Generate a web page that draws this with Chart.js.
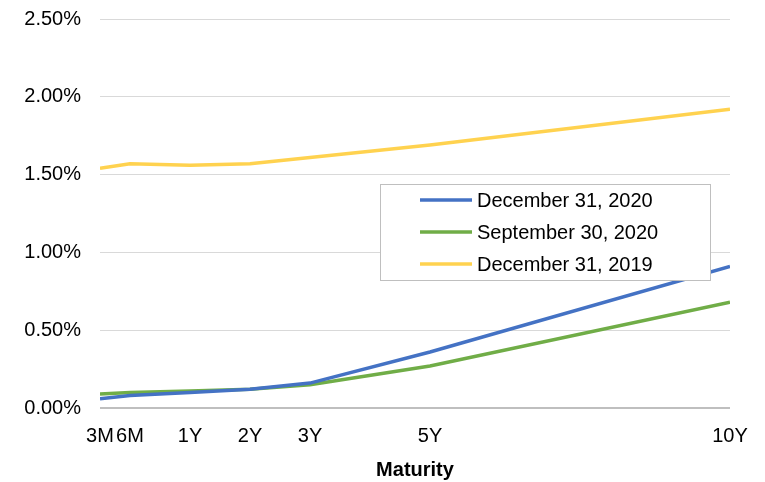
<!DOCTYPE html>
<html>
<head>
<meta charset="utf-8">
<script src="https://cdn.jsdelivr.net/npm/chart.js@4"></script>
<style>
  html, body { margin: 0; padding: 0; background: #fff; }
  #wrap { width: 765px; height: 482px; }
</style>
</head>
<body>
<div id="wrap"><canvas id="curveChart" width="765" height="482"></canvas></div>
<script>
const tenors = ["3M", "6M", "1Y", "2Y", "3Y", "5Y", "10Y"]
// where each tenor sits on the x axis (as in the original chart's spacing)
const tenorPos = [0, 0.5, 1.5, 2.5, 3.5, 5.5, 10.5]
const seriesNames = ["December 31, 2020", "September 30, 2020", "December 31, 2019"]
const dec2020 = [0.06, 0.08, 0.10, 0.12, 0.16, 0.36, 0.91]
const sep2020 = [0.09, 0.10, 0.11, 0.12, 0.15, 0.27, 0.68]
const dec2019 = [1.54, 1.57, 1.56, 1.57, 1.61, 1.69, 1.92]
const yTicks = [0, 0.5, 1.0, 1.5, 2.0, 2.5]
const colors = ["#4472C4", "#70AD47", "#FFD24F"]

const font = "Arial, 'Liberation Sans', sans-serif"

function toPoints(values) {
    return values.map((v, i) => ({ x: tenorPos[i], y: v }))
}

// legend box floating inside the plot, like the Excel one
const boxLegend = {
    id: "boxLegend",
    afterDraw(chart) {
        const c = chart.ctx
        const x0 = 380, y0 = 184, w = 330, h = 96
        c.save()
        c.fillStyle = "#fff"
        c.fillRect(x0, y0, w, h)
        c.strokeStyle = "#bfbfbf"
        c.lineWidth = 1
        c.strokeRect(x0 + 0.5, y0 + 0.5, w, h)
        c.font = "20px " + font
        c.textBaseline = "middle"
        chart.data.datasets.forEach((ds, i) => {
            const y = y0 + 16 + i * 32
            c.strokeStyle = ds.borderColor
            c.lineWidth = 3.5
            c.beginPath()
            c.moveTo(420, y)
            c.lineTo(472, y)
            c.stroke()
            c.fillStyle = "#000"
            c.fillText(ds.label, 477, y + 1)
        })
        c.restore()
    }
}

const ctx = document.getElementById("curveChart").getContext("2d")
let datasets = []
;[dec2020, sep2020, dec2019].forEach((vals, i) => {
    datasets.push({
        label: seriesNames[i],
        data: toPoints(vals),
        borderColor: colors[i],
        backgroundColor: colors[i],
        borderWidth: 3.5,
        pointRadius: 0,
        tension: 0,
        order: i,
    })
})

const myChart = new Chart(ctx, {
    type: "line",
    data: { datasets: datasets },
    options: {
        responsive: false,
        animation: false,
        layout: { padding: { left: 0, right: 35, top: 19, bottom: 0 } },
        plugins: {
            legend: { display: false },
            tooltip: { enabled: false },
        },
        scales: {
            x: {
                type: "linear",
                min: tenorPos[0],
                max: tenorPos[tenorPos.length - 1],
                afterBuildTicks: (axis) => {
                    axis.ticks = tenorPos.map((p) => ({ value: p }))
                },
                afterFit: (axis) => { axis.height = 74 },
                grid: { display: false, drawTicks: false },
                border: { display: false },
                ticks: {
                    autoSkip: false,
                    maxRotation: 0,
                    padding: 16,
                    color: "#000",
                    font: { size: 20, family: font },
                    callback: (v) => {
                        const i = tenorPos.indexOf(v)
                        return i >= 0 ? tenors[i] : ""
                    },
                },
                title: {
                    display: true,
                    text: "Maturity",
                    color: "#000",
                    font: { size: 20, weight: "bold", family: font },
                    padding: { top: 8, bottom: 0 },
                },
            },
            y: {
                min: 0,
                max: 2.5,
                afterBuildTicks: (axis) => {
                    axis.ticks = yTicks.map((v) => ({ value: v }))
                },
                afterFit: (axis) => {
                    axis.width = 100
                    axis.paddingTop = 0
                    axis.paddingBottom = 0
                },
                grid: {
                    drawTicks: false,
                    lineWidth: (c) => (c.tick && c.tick.value === 0 ? 2 : 1),
                    color: (c) => (c.tick && c.tick.value === 0 ? "#bfbfbf" : "#d9d9d9"),
                },
                border: { display: false },
                ticks: {
                    padding: 19,
                    color: "#000",
                    font: { size: 20, family: font },
                    callback: (v) => v.toFixed(2) + "%",
                },
            },
        },
    },
    plugins: [boxLegend],
})
</script>
</body>
</html>
